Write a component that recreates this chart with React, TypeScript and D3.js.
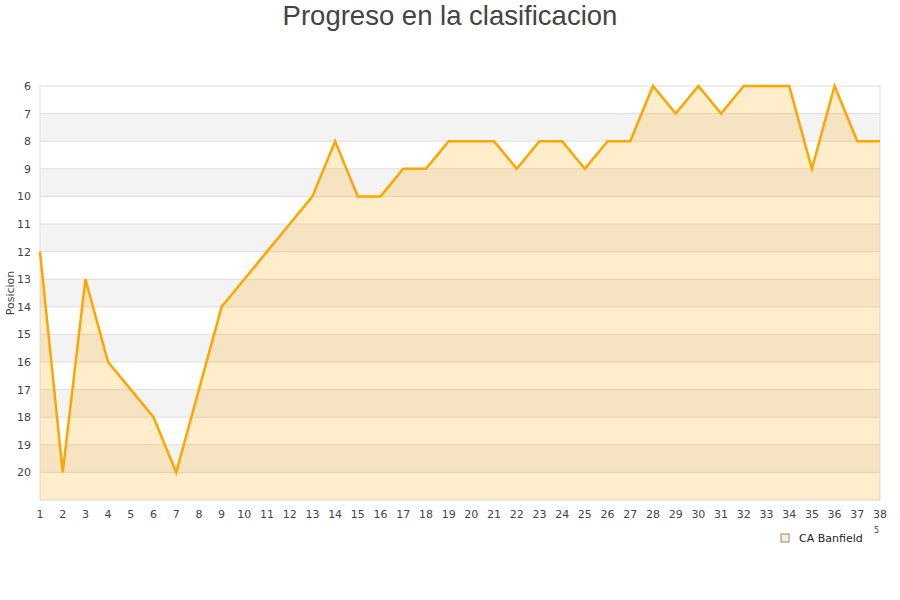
import * as d3 from 'd3';

const matchdays = d3.range(1, 39);
const positions = [
  12, 20, 13, 16, 17, 18, 20, 17, 14, 13, 12, 11, 10, 8, 10, 10, 9, 9, 8, 8, 8, 9, 8, 8, 9, 8, 8, 6, 7, 6,
  7, 6, 6, 6, 9, 6, 8, 8,
];
const yTicks = d3.range(6, 21);
const teamName = 'CA Banfield';

export default function App(): JSX.Element {
  const width = 900;
  const height = 600;
  const left = 40;
  const right = 880;
  const top = 86;
  const bottom = 500;

  const x = d3.scaleLinear([1, 38], [left, right]);
  const y = d3.scaleLinear([6, 21], [top, bottom]);

  const pts = matchdays.map((d, i) => ({ md: d, pos: positions[i] }));

  const line = d3
    .line<{ md: number; pos: number }>()
    .x((d) => x(d.md))
    .y((d) => y(d.pos));
  const area = d3
    .area<{ md: number; pos: number }>()
    .x((d) => x(d.md))
    .y0(y(21))
    .y1((d) => y(d.pos));

  const font = 'DejaVu Sans, sans-serif';

  return (
    <svg
      width={width}
      height={height}
      style={{ position: 'absolute', left: 0, top: 0, background: '#fff' }}
    >
      <text
        x={450}
        y={25}
        textAnchor="middle"
        fontFamily="Liberation Sans, Arial, sans-serif"
        fontSize={27.5}
        fill="#444"
      >
        Progreso en la clasificacion
      </text>

      {/* stripes */}
      {d3.range(7, 21, 2).map((v) => (
        <rect key={v} x={left} y={y(v)} width={right - left} height={y(v + 1) - y(v)} fill="#f3f3f3" />
      ))}
      {/* grid lines */}
      {d3.range(6, 22).map((v) => (
        <line key={v} x1={left} x2={right} y1={y(v)} y2={y(v)} stroke="#dddddd" strokeWidth={1} />
      ))}
      <line x1={left} x2={left} y1={top} y2={bottom} stroke="#dddddd" />
      <line x1={right} x2={right} y1={top} y2={bottom} stroke="#dddddd" />

      <path d={area(pts) ?? ''} fill="rgba(255,165,0,0.2)" />
      <path d={line(pts) ?? ''} fill="none" stroke="#ffa500" strokeWidth={2.5} strokeLinejoin="miter" />

      {yTicks.map((v) => (
        <text key={v} x={31} y={y(v) + 4} textAnchor="end" fontFamily={font} fontSize={11} fill="#444">
          {v}
        </text>
      ))}
      {matchdays.map((d) => (
        <text key={d} x={x(d)} y={518} textAnchor="middle" fontFamily={font} fontSize={11} fill="#444">
          {d}
        </text>
      ))}

      <text
        transform={`translate(14,${(top + bottom) / 2}) rotate(-90)`}
        textAnchor="middle"
        fontFamily={font}
        fontSize={11}
        fill="#444"
      >
        Posicion
      </text>

      {/* legend */}
      <rect x={781} y={534} width={8} height={8} fill="#ffedcc" stroke="#888" strokeWidth={1} />
      <text x={799} y={542} fontFamily={font} fontSize={11} fill="#222">
        {teamName}
      </text>
      <text x={874} y={533} fontFamily={font} fontSize={8} fill="#444">
        5
      </text>
    </svg>
  );
}
